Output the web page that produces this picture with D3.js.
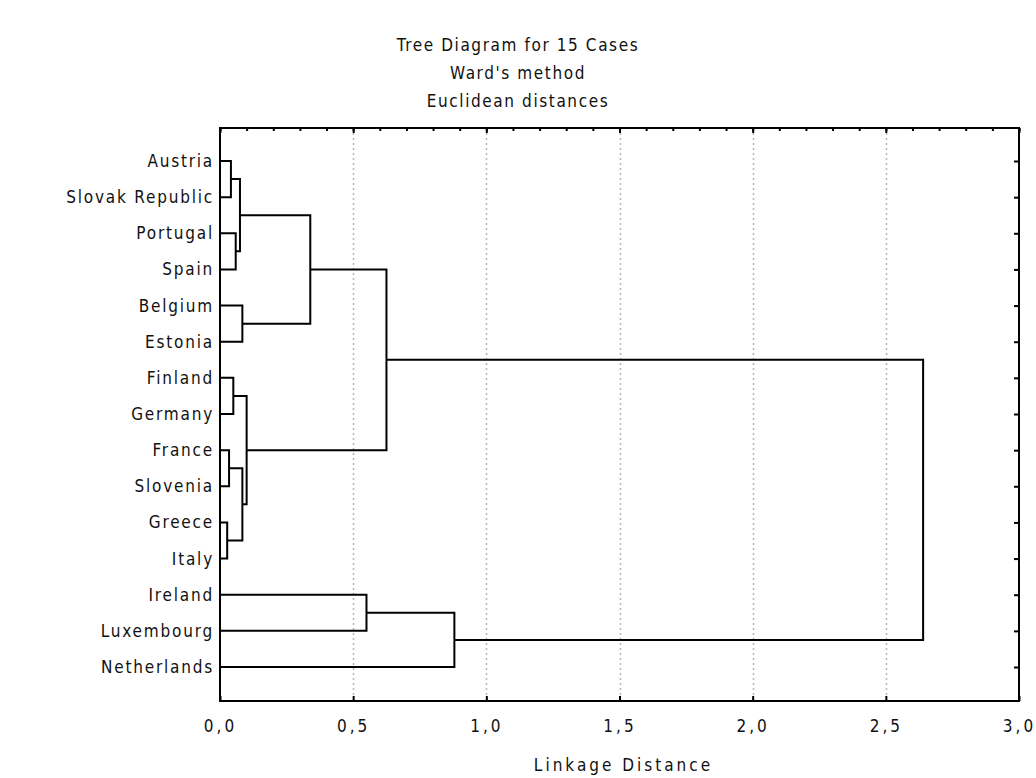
<!DOCTYPE html>
<html lang="en">
<head>
  <meta charset="UTF-8">
  <script src="https://cdn.jsdelivr.net/npm/d3@7"></script>
  <title>Tree Diagram</title>
  <style>
    body { margin: 0; background: #fff; }
    text { font-family: "DejaVu Sans Condensed", "DejaVu Sans", sans-serif; font-stretch: condensed; fill: #111; }
  </style>
</head>
<body>
  <script>
    // leaf order as drawn, top to bottom
    const leaves = ['Austria', 'Slovak Republic', 'Portugal', 'Spain', 'Belgium', 'Estonia',
      'Finland', 'Germany', 'France', 'Slovenia', 'Greece', 'Italy',
      'Ireland', 'Luxembourg', 'Netherlands']

    // merges: [cluster a, cluster b, linkage distance]; ids 0..14 are leaves, 15+ are merges in order
    const merges = [
      [10, 11, 0.027],
      [8, 9, 0.034],
      [0, 1, 0.041],
      [6, 7, 0.050],
      [2, 3, 0.059],
      [17, 19, 0.075],
      [4, 5, 0.084],
      [16, 15, 0.084],
      [18, 22, 0.100],
      [20, 21, 0.339],
      [12, 13, 0.55],
      [24, 23, 0.625],
      [25, 14, 0.88],
      [26, 27, 2.64]
    ]

    const titleLines = ['Tree Diagram for 15 Cases', "Ward's method", 'Euclidean distances']
    const xTicks = [0, 0.5, 1, 1.5, 2, 2.5, 3]

    const W = 1036, H = 778
    const box = { left: 220, right: 1019, top: 128, bottom: 701 }
    const fontFam = '"DejaVu Sans Condensed", "DejaVu Sans", sans-serif'

    const svg = d3.select('body').append('svg')
        .attr('width', W)
        .attr('height', H)

    const x = d3.scaleLinear().domain([0, 3]).range([box.left, box.right])
    const y = d3.scaleLinear().domain([0, leaves.length - 1]).range([161, 667])

    // grid
    svg.append('g')
      .selectAll('line')
      .data(xTicks.filter(d => d > 0 && d < 3))
      .join('line')
        .attr('x1', d => Math.round(x(d)) + 0.5)
        .attr('x2', d => Math.round(x(d)) + 0.5)
        .attr('y1', box.top)
        .attr('y2', box.bottom)
        .attr('stroke', '#b4b4b4')
        .attr('stroke-width', 1.5)
        .attr('stroke-dasharray', '2,3')

    // node positions
    const nodes = leaves.map((name, i) => ({ h: 0, y: y(i) }))
    merges.forEach(([a, b, h]) => {
      const na = nodes[a], nb = nodes[b]
      nodes.push({ h, y: (na.y + nb.y) / 2, a: na, b: nb })
    })

    svg.append('g')
      .selectAll('path')
      .data(nodes.slice(leaves.length))
      .join('path')
        .attr('fill', 'none')
        .attr('stroke', '#000')
        .attr('stroke-width', 2)
        .attr('d', d => `M${x(d.a.h)},${d.a.y}H${x(d.h)}V${d.b.y}H${x(d.b.h)}`)

    // frame
    svg.append('rect')
        .attr('x', box.left)
        .attr('y', box.top)
        .attr('width', box.right - box.left)
        .attr('height', box.bottom - box.top)
        .attr('fill', 'none')
        .attr('stroke', '#000')
        .attr('stroke-width', 2)

    // top minor ticks
    svg.append('g')
        .attr('transform', `translate(0,${box.top})`)
        .call(d3.axisTop(x).ticks(30).tickSize(-3).tickFormat(''))
        .call(g => g.select('.domain').remove())
        .call(g => g.selectAll('line').attr('stroke-width', 2))
    svg.append('g')
        .attr('transform', `translate(0,${box.top})`)
        .call(d3.axisTop(x).tickValues(xTicks).tickSize(-5).tickFormat(''))
        .call(g => g.select('.domain').remove())
        .call(g => g.selectAll('line').attr('stroke-width', 2))

    // bottom axis
    svg.append('g')
        .attr('transform', `translate(0,${box.bottom})`)
        .call(d3.axisBottom(x).tickValues(xTicks).tickSize(-5).tickPadding(19)
          .tickFormat(d => d3.format('.1f')(d).replace('.', ',')))
        .call(g => g.select('.domain').remove())
        .call(g => g.selectAll('line').attr('stroke-width', 2))
        .call(g => g.selectAll('text')
          .attr('font-size', 17)
          .attr('font-family', fontFam)
          .attr('letter-spacing', 3)
          .attr('fill', '#111'))

    // right ticks
    svg.append('g')
        .attr('transform', `translate(${box.right},0)`)
        .call(d3.axisLeft(y).tickValues(d3.range(leaves.length)).tickSize(5).tickFormat(''))
        .call(g => g.select('.domain').remove())
        .call(g => g.selectAll('line').attr('stroke-width', 2))

    // leaf labels
    svg.append('g')
        .attr('transform', `translate(${box.left},0)`)
        .call(d3.axisLeft(y).tickValues(d3.range(leaves.length)).tickSize(0).tickPadding(6)
          .tickFormat(i => leaves[i]))
        .call(g => g.select('.domain').remove())
        .call(g => g.selectAll('text')
          .attr('font-size', 17)
          .attr('font-family', fontFam)
          .attr('letter-spacing', 1.8)
          .attr('fill', '#111'))

    // title
    svg.append('g')
      .selectAll('text')
      .data(titleLines)
      .join('text')
        .attr('x', W / 2)
        .attr('y', (d, i) => 51 + i * 28)
        .attr('text-anchor', 'middle')
        .attr('font-size', 17)
        .attr('letter-spacing', 1.6)
        .text(d => d)

    svg.append('text')
        .attr('x', (box.left + box.right) / 2 + 4)
        .attr('y', 771)
        .attr('text-anchor', 'middle')
        .attr('font-size', 17)
        .attr('letter-spacing', 3)
        .text('Linkage Distance')
  </script>
</body>
</html>
